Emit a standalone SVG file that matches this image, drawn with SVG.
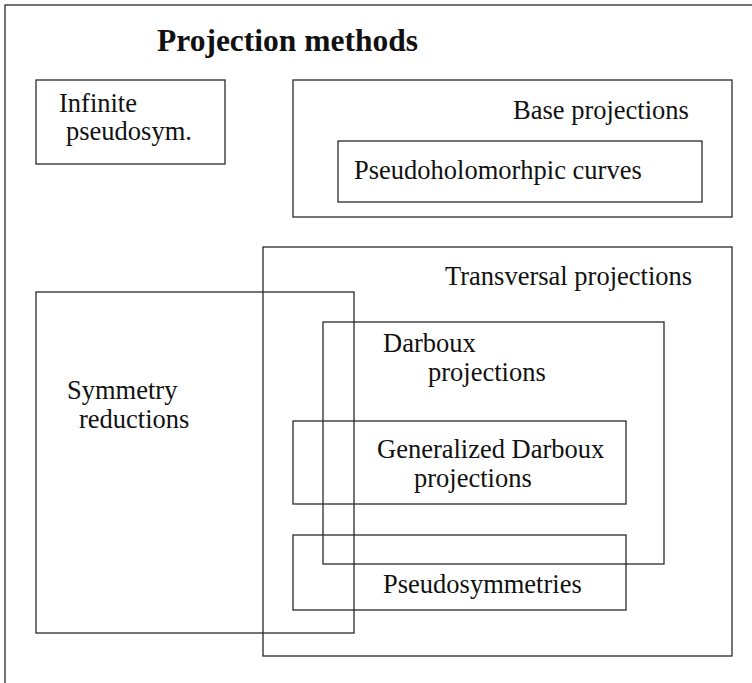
<svg xmlns="http://www.w3.org/2000/svg" width="752" height="683" viewBox="0 0 752 683">
<style>
.box{fill:none;stroke:#2a2a2a;stroke-width:1.3}
.t{font-family:"Liberation Serif","Times New Roman",serif;font-size:26.5px;fill:#111}
.title{font-family:"Liberation Serif","Times New Roman",serif;font-size:31.5px;font-weight:bold;fill:#111}
</style>
<rect x="0" y="0" width="752" height="683" fill="#fff"/>
<g id="frame"><rect class="box" x="5" y="5" width="780" height="720"/></g>
<g id="title"><text class="title" x="157" y="51">Projection methods</text></g>
<g id="infinite">
<rect class="box" x="36" y="80" width="189" height="84"/>
<text class="t" x="59" y="112">Infinite</text>
<text class="t" x="66" y="140">pseudosym.</text>
</g>
<g id="base">
<rect class="box" x="293" y="80" width="439" height="137"/>
<text class="t" x="513" y="119">Base projections</text>
</g>
<g id="pseudoholo">
<rect class="box" x="338" y="141" width="364" height="61"/>
<text class="t" x="354" y="179">Pseudoholomorhpic curves</text>
</g>
<g id="transversal">
<rect class="box" x="263" y="247" width="469" height="409"/>
<text class="t" x="445" y="285">Transversal projections</text>
</g>
<g id="symmetry">
<rect class="box" x="36" y="292" width="318" height="341"/>
<text class="t" x="67" y="399">Symmetry</text>
<text class="t" x="79" y="428">reductions</text>
</g>
<g id="darboux">
<rect class="box" x="323" y="322" width="341" height="242"/>
<text class="t" x="383" y="352">Darboux</text>
<text class="t" x="428" y="381">projections</text>
</g>
<g id="gendarboux">
<rect class="box" x="293" y="421" width="333" height="83"/>
<text class="t" x="377" y="458">Generalized Darboux</text>
<text class="t" x="414" y="487">projections</text>
</g>
<g id="pseudosym">
<rect class="box" x="293" y="535" width="333" height="75"/>
<text class="t" x="383" y="593">Pseudosymmetries</text>
</g>
<g id="connectors"></g>
</svg>
